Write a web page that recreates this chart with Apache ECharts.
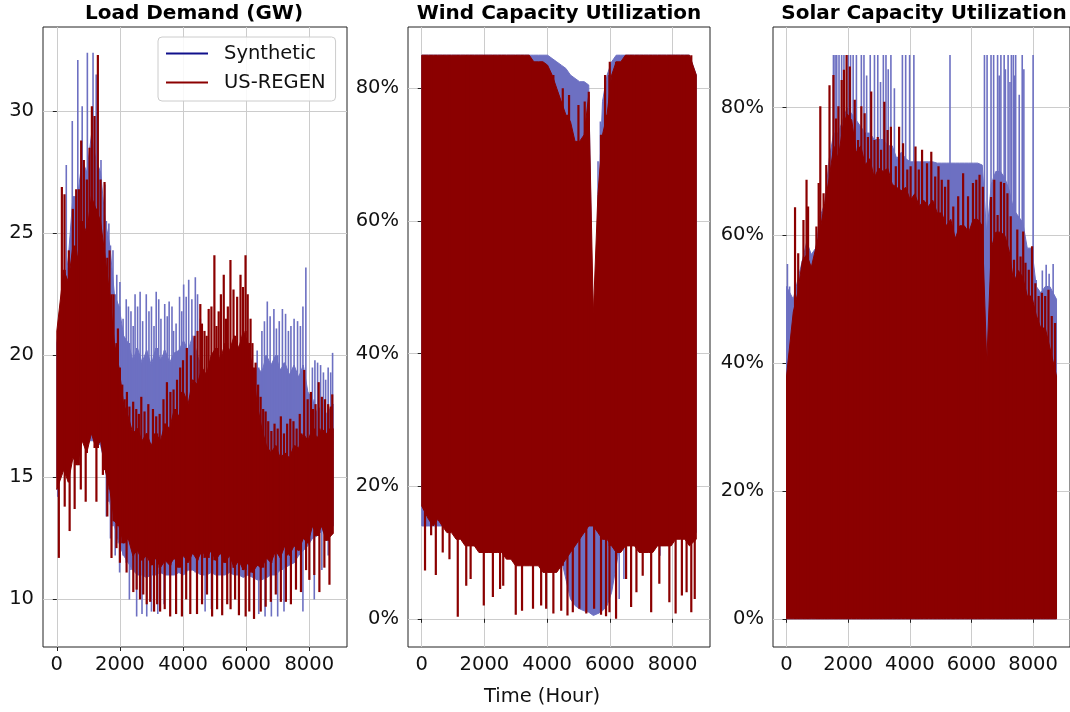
<!DOCTYPE html>
<html>
<head>
<meta charset="utf-8">
<script src="https://cdn.jsdelivr.net/npm/echarts@6.0.0/dist/echarts.min.js"></script>
<style>
html, body { margin: 0; padding: 0; background: #fff; }
#chart { width: 1070px; height: 712px; }
</style>
</head>
<body>
<div id="chart"></div>
<script>
// hourly traces: the dense band (high / low per 146-hour block, 60 blocks = 8760 h)
// plus the single hours that stick out of it, as [hour, value]
var BLOCK_HOURS = 146;

var loadSynHi = [20.5, 22.5, 24, 26.5, 26.5, 28, 27.5, 29, 28, 27.5,
  25.5, 24.5, 22.5, 22, 20.8, 20.5, 19.8, 20.3, 19.7, 20.2,
  19.6, 20.3, 19.8, 20.2, 19.7, 20.1, 20.2, 20.6, 20.2, 20.8,
  20, 19.5, 19, 19.2, 18.8, 19.1, 18.9, 19.2, 18.8, 19.2,
  19.1, 19.5, 19.2, 19.5, 19.3, 20, 19.6, 20, 19.4, 19.7,
  19.2, 19.6, 19.1, 19.6, 18.5, 18.2, 17.6, 18, 17.6, 18];
var loadSynLo = [15, 15.5, 16, 16, 16.3, 16.5, 16.5, 16.5, 16.5, 16.3,
  15.5, 14, 13, 12.3, 11.8, 11.5, 11.2, 11, 11, 10.9,
  11, 11, 11.1, 11, 11, 11, 11.1, 11, 11.2, 11.2,
  11.1, 11, 11, 11.1, 11, 11, 11, 11.1, 11, 11,
  10.9, 11, 10.9, 10.8, 10.8, 10.9, 11, 11, 11.2, 11.3,
  11.4, 11.5, 11.8, 12, 12.2, 12.5, 12.6, 12.8, 12.8, 13];
var loadSynUp = [[300, 27.8], [490, 29.6], [665, 32.1], [804, 30.2], [968, 32.4], [1148, 32.4], [1248, 31.5],
  [1400, 28], [1520, 27], [1650, 25.4], [1780, 24.3], [1900, 23.3], [2000, 23], [2100, 21.5], [2200, 22.3],
  [2270, 22], [2350, 21.8], [2420, 21.2], [2480, 22.5], [2560, 22], [2640, 22.6], [2720, 21.4], [2835, 22.5],
  [2920, 21.8], [3000, 22], [3080, 21.2], [3150, 22.6], [3230, 22.3], [3300, 21.5], [3420, 22.1], [3500, 21.6],
  [3560, 22.2], [3650, 22], [3700, 21], [3780, 21.3], [3890, 22.4], [3960, 21.8], [4020, 22.9], [4100, 22.4],
  [4180, 23.1], [4280, 22.3], [4390, 23.2], [4460, 22.5], [4550, 21.5], [6350, 20.2], [6500, 21], [6580, 21.4],
  [6671, 22.2], [6760, 21.6], [6880, 21.9], [6960, 21.1], [7050, 21.4], [7150, 21.9], [7250, 21.7], [7340, 21],
  [7420, 21.2], [7520, 21.5], [7630, 21.4], [7720, 21.2], [7800, 22], [7893, 23.6], [8100, 19.5], [8180, 19.8],
  [8265, 19.7], [8360, 19.6], [8450, 19.3], [8520, 19], [8600, 19.5], [8680, 19.3], [8740, 20.1]];
var loadSynDown = [[30, 14.2], [1570, 13.4], [1700, 12.5], [1850, 11.8], [1990, 11.1], [2300, 10], [2530, 9.3],
  [2700, 9.4], [2850, 9.3], [3000, 9.5], [3200, 9.4], [3400, 9.8], [4700, 9.5], [4900, 9.6], [6400, 9.4],
  [6600, 9.3], [6800, 9.3], [7000, 9.3], [7200, 9.5], [7800, 9.5], [8160, 10], [8400, 11.2], [8600, 11.8]];

var loadRegenHi = [21, 23.5, 23, 24.5, 24, 25.5, 25, 26.5, 26, 25.5,
  24, 22.5, 20.5, 19.5, 18, 17.5, 16.8, 17, 16.5, 16.8,
  16.3, 16.8, 16.5, 17.2, 17, 17.8, 17.5, 18.5, 18, 19,
  18.8, 19.5, 19.2, 20, 20.3, 19.8, 20.5, 20.2, 20.8, 20.3,
  21, 20.5, 19.5, 18, 17, 16.3, 16, 16.3, 15.8, 16,
  15.8, 16.3, 16.2, 16.8, 16.5, 17, 16.6, 17, 16.8, 17];
var loadRegenLo = [14.5, 15.3, 14.8, 15.8, 15.5, 16.5, 16, 16.8, 16.2, 16.5,
  15.3, 14.5, 13.2, 13, 12.3, 12.5, 11.8, 12, 11.6, 11.8,
  11.4, 11.7, 11.3, 11.6, 11.4, 11.7, 11.3, 11.8, 11.5, 11.9,
  11.6, 12, 11.7, 12, 11.6, 11.9, 11.5, 11.8, 11.3, 11.6,
  11.2, 11.5, 11.1, 11.4, 11.3, 11.7, 11.5, 12, 11.7, 12.2,
  11.8, 12.2, 12, 12.5, 12.3, 13, 12.6, 13, 12.4, 12.7];
var loadRegenUp = [[160, 26.9], [243, 26.6], [381, 24.3], [508, 26], [614, 26.8], [698, 26.8], [772, 28.8],
  [857, 28], [952, 27.2], [1037, 28.5], [1111, 30.2], [1196, 29.8], [1301, 32.3], [1386, 27.2], [1513, 27.1],
  [1672, 24.3], [1799, 22.5], [1936, 21.1], [2074, 18.8], [2150, 18.2], [2222, 18.5], [2300, 17.9], [2420, 18.1],
  [2518, 17.8], [2600, 17.6], [2677, 18.3], [2780, 17.7], [2900, 18], [3047, 17.8], [3150, 17.5], [3259, 17.6],
  [3380, 18.2], [3490, 18.9], [3600, 18.5], [3700, 18.6], [3810, 19], [3910, 19.5], [4000, 19.8], [4120, 20.3],
  [4250, 20], [4366, 20.8], [4460, 21], [4548, 22.1], [4600, 21.3], [4680, 21], [4750, 20.8], [4813, 21.9],
  [4900, 22], [4994, 24.1], [5060, 21.2], [5130, 21.8], [5200, 22.5], [5291, 23.3], [5360, 21.5], [5420, 22],
  [5503, 23.9], [5600, 22.7], [5716, 22.4], [5822, 23.3], [5900, 22.8], [5981, 24.1], [6050, 22.5], [6140, 21.5],
  [6200, 20.5], [6300, 19.7], [6380, 18.8], [6459, 18.3], [6540, 17.8], [6618, 17.7], [6700, 17.3], [6800, 16.9],
  [6900, 17.2], [7000, 17], [7100, 17.5], [7200, 16.8], [7300, 17.2], [7400, 17.4], [7500, 17.3], [7600, 17],
  [7700, 17.6], [7840, 19.4], [7950, 18.2], [8052, 18.5], [8120, 17.8], [8200, 18], [8300, 18.9], [8400, 18.3],
  [8500, 18.2], [8600, 18], [8680, 17.9], [8730, 18.4]];
var loadRegenDown = [[64, 11.7], [250, 13.8], [406, 12.8], [565, 13.7], [760, 14.5], [915, 14], [1255, 14],
  [1460, 15.1], [1600, 13.4], [1733, 11.7], [1890, 12.1], [2000, 11.5], [2211, 11.1], [2424, 10.3], [2530, 10.4],
  [2636, 10], [2740, 10.2], [2849, 9.8], [2960, 9.9], [3083, 9.5], [3180, 9.8], [3274, 9.5], [3420, 9.6],
  [3593, 9.3], [3780, 9.4], [3965, 9.3], [4100, 10], [4230, 9.4], [4443, 9.4], [4603, 9.8], [4760, 10.2],
  [4922, 9.3], [5080, 9.6], [5241, 9.35], [5400, 9.8], [5507, 9.6], [5650, 10], [5772, 9.35], [5985, 9.3],
  [6100, 9.5], [6250, 9.2], [6463, 9.5], [6620, 9.7], [6782, 9.9], [6940, 10.2], [7100, 9.9], [7260, 9.9],
  [7419, 9.8], [7580, 10.4], [7738, 10.3], [7900, 11.2], [8004, 10.8], [8160, 11], [8322, 10.3], [8480, 11.3],
  [8641, 10.6]];

var windSynHi = [85, 85, 85, 85, 85, 85, 85, 85, 85, 85,
  85, 85, 85, 85, 85, 85, 85, 85, 85, 85,
  85, 85, 85, 85, 85, 85, 85, 85, 84.5, 84,
  83.5, 83, 82, 81.5, 81, 81, 80.5, 40, 60, 78,
  82, 84, 85, 85, 85, 85, 85, 85, 85, 85,
  85, 85, 85, 85, 85, 85, 85, 85, 85, 82];
var windSynLo = [14, 14, 14, 14, 14, 14, 14, 14, 14, 14,
  14, 14, 14, 14, 14, 14, 14, 14, 14, 14,
  14, 14, 14, 14, 14, 14, 14, 14, 14, 12,
  9, 6, 3, 2, 1.5, 1.2, 1, 0.5, 0.8, 1.2,
  2, 4, 8, 12, 13, 13, 13, 13, 13, 13,
  13, 13, 13, 13, 13, 13, 13, 13, 13, 13];
var windSynUp = [[5625, 69], [5700, 75]];
var windSynDown = [[6300, 3], [6450, 6], [7600, 9.5]];

var windRegenHi = [85, 85, 85, 85, 85, 85, 85, 85, 85, 85,
  85, 85, 85, 85, 85, 85, 85, 85, 85, 85,
  85, 85, 85, 85, 84, 84, 84, 83.5, 82, 80,
  78, 76, 75, 72, 72, 73, 79, 46, 64, 73,
  76, 82, 84, 84, 85, 85, 85, 85, 85, 85,
  85, 85, 85, 85, 85, 85, 85, 85, 85, 82];
var windRegenLo = [17, 15, 14, 15, 14, 13, 13, 12, 12, 11,
  11, 11, 10, 10, 10, 10, 10, 10, 9, 9,
  8, 8, 8, 8, 8, 8, 7, 7, 7, 7,
  8, 9, 10, 11, 12, 13, 14, 14, 13, 12,
  12, 11, 10, 10, 11, 11, 11, 10, 10, 10,
  10, 11, 11, 11, 11, 12, 12, 12, 11, 12];
var windRegenUp = [[4500, 80], [4700, 79], [5000, 77.5], [5200, 78], [5330, 79.5], [5780, 73], [5850, 82], [6000, 84]];
var windRegenDown = [[105, 7.3], [300, 12.6], [450, 6.6], [670, 10], [885, 9], [1150, 0.3], [1420, 5], [1560, 6],
  [1980, 2], [2270, 3.3], [2500, 4.5], [2600, 5], [3000, 0.6], [3200, 1.2], [3550, 1.5], [3810, 2], [3970, 1.5],
  [4200, 0.8], [4450, 1.2], [4650, 0.5], [4820, 1], [5030, 1.5], [5250, 0.8], [5500, 1.5], [5720, 0.6], [5880, 0.4],
  [5990, 1], [6200, 0], [6520, 6], [6680, 1.8], [6850, 4], [7050, 6.5], [7320, 1], [7580, 5.3], [7900, 2.5],
  [8100, 0.8], [8300, 3.5], [8450, 4], [8600, 1], [8710, 3]];

var solarSynHi = [52, 50, 53, 56, 59, 57, 58, 63, 65, 72,
  76, 76, 78, 80, 79, 78, 77, 76, 76, 75,
  75, 75, 74, 74, 72, 73, 72, 71.5, 71.5, 71.5,
  71.5, 71.5, 71.5, 71.3, 71.3, 71.3, 71.3, 71.3, 71.3, 71.3,
  71.3, 71.3, 71.3, 71, 60, 68, 70, 70, 69, 67,
  64, 63, 62, 58, 58, 52, 51, 52, 52, 50];
var solarSynLo = [0, 0, 0, 0, 0, 0, 0, 0, 0, 0,
  0, 0, 0, 0, 0, 0, 0, 0, 0, 0,
  0, 0, 0, 0, 0, 0, 0, 0, 0, 0,
  0, 0, 0, 0, 0, 0, 0, 0, 0, 0,
  0, 0, 0, 0, 0, 0, 0, 0, 0, 0,
  0, 0, 0, 0, 0, 0, 0, 0, 0, 0];
var solarSynUp = [[30, 55.5], [100, 52], [1523, 88.2], [1576, 88.2], [1629, 88.2], [1704, 88.2], [1789, 88.2],
  [1864, 88.2], [2002, 88.2], [2077, 88.2], [2162, 88.2], [2268, 88.2], [2428, 88.2], [2513, 88.2], [2600, 85],
  [2716, 88.2], [2854, 88.2], [2961, 88.2], [3050, 84], [3142, 88.2], [3227, 88.2], [3300, 86], [3387, 88.2],
  [3500, 83], [3760, 88.2], [3866, 88.2], [3994, 88.2], [4132, 88.2], [5304, 88.2], [6422, 88.2], [6507, 88.2],
  [6635, 88.2], [6720, 88.2], [6848, 88.2], [6900, 85], [6955, 88.2], [7061, 88.2], [7100, 86], [7189, 88.2],
  [7250, 84], [7295, 88.2], [7359, 88.2], [7400, 85], [7434, 88.2], [7550, 82], [7647, 88.2], [7700, 86],
  [8000, 88.2], [8100, 53], [8300, 54.5], [8424, 55.4], [8520, 54], [8650, 55.5]];

var solarRegenHi = [38, 48, 51, 56, 57, 55, 58, 61, 65, 69,
  74, 72, 77, 79, 78, 73, 74, 71, 72, 69,
  70.5, 70, 70.5, 68, 67.5, 67, 67.5, 65.5, 66.5, 64.5,
  65.5, 64.5, 65.5, 63.5, 63.5, 61.5, 62.5, 59.5, 61.5, 61.5,
  60.5, 62.5, 62.5, 61.5, 40, 58, 60.5, 60.5, 60, 57.5,
  52.5, 54.5, 53.5, 50.5, 50.5, 47.5, 45.5, 45.5, 42.5, 38];
var solarRegenLo = [0, 0, 0, 0, 0, 0, 0, 0, 0, 0,
  0, 0, 0, 0, 0, 0, 0, 0, 0, 0,
  0, 0, 0, 0, 0, 0, 0, 0, 0, 0,
  0, 0, 0, 0, 0, 0, 0, 0, 0, 0,
  0, 0, 0, 0, 0, 0, 0, 0, 0, 0,
  0, 0, 0, 0, 0, 0, 0, 0, 0, 0];
var solarRegenUp = [[277, 64.4], [380, 57.2], [550, 62.4], [650, 68.7], [700, 64.5], [970, 61.4], [1044, 68.2],
  [1097, 80.2], [1203, 66.6], [1290, 71], [1395, 83.5], [1523, 85.1], [1608, 78.3], [1683, 80.2], [1790, 84.3],
  [1864, 85.9], [1949, 88.2], [2055, 86.4], [2162, 75.9], [2215, 81.2], [2322, 74.9], [2428, 80.2], [2535, 79.1],
  [2641, 75.4], [2748, 82.5], [2854, 74.9], [2961, 75.4], [3067, 73.4], [3174, 80.9], [3280, 76.5], [3387, 77],
  [3546, 70.8], [3653, 77], [3781, 74.4], [3919, 70.3], [4026, 70.8], [4185, 73.9], [4292, 70.3], [4398, 73.4],
  [4558, 71.3], [4697, 73.1], [4824, 69.2], [4931, 70.8], [5037, 68.7], [5144, 67.6], [5250, 68.7], [5410, 64.5],
  [5570, 66.1], [5730, 69.7], [5889, 66.1], [6049, 68.2], [6156, 68.7], [6262, 69.5], [6369, 67.6], [6635, 66],
  [6740, 68.7], [6848, 63.2], [6955, 68.4], [7061, 68.2], [7167, 66.6], [7274, 63], [7380, 56.2], [7487, 60.9],
  [7593, 56.7], [7679, 60.6], [7753, 55.7], [7860, 54.6], [7966, 58.3], [8073, 52.5], [8179, 50.5], [8286, 51],
  [8392, 50.5], [8498, 51.5], [8605, 47.4], [8711, 46.3]];

var hourTicks = [0, 2000, 4000, 6000, 8000];
var loadTicks = [10, 15, 20, 25, 30];
var pctTicks = [0, 20, 40, 60, 80];
var titles = ['Load Demand (GW)', 'Wind Capacity Utilization', 'Solar Capacity Utilization'];

var SYN_COLOR = '#6d70c2';
var REGEN_COLOR = '#8b0000';
var FONT = 'DejaVu Sans';

// hour at which a block's value is placed; the outer blocks are pinned to the ends of the year
function blockHour(i, n) {
  if (i === 0) return 0;
  if (i === n - 1) return 8760;
  return i * BLOCK_HOURS + BLOCK_HOURS / 2;
}

function spikeLines(list, from, color, width, api) {
  return list.map(function (s) {
    var i = Math.min(from.length - 1, Math.floor(s[0] / BLOCK_HOURS));
    var a = api.coord([s[0], from[i]]);
    var b = api.coord([s[0], s[1]]);
    return {
      type: 'line',
      shape: {x1: a[0], y1: a[1], x2: b[0], y2: b[1]},
      style: {stroke: color, lineWidth: width}
    };
  });
}

// dense band between the low and high envelope, plus the hours that stick out of it
function layer(hi, lo, up, down, color, width) {
  return function (params, api) {
    var top = [], bottom = [];
    for (var i = 0; i < hi.length; i++) {
      var t = blockHour(i, hi.length);
      top.push(api.coord([t, hi[i]]));
      bottom.unshift(api.coord([t, lo[i]]));
    }
    var children = [{
      type: 'polygon',
      shape: {points: top.concat(bottom)},
      style: {fill: color, stroke: color, lineWidth: 1}
    }];
    children = children.concat(spikeLines(up, lo, color, width, api));
    children = children.concat(spikeLines(down, hi, color, width, api));
    return {type: 'group', children: children};
  };
}

var grids = [
  {left: 43, top: 27, width: 304, height: 620},
  {left: 408, top: 27, width: 302, height: 620},
  {left: 773, top: 27, width: 302, height: 620}
];
var yRanges = [[8.05, 33.45], [-4.25, 89.25], [-4.41, 92.6]];
var yTicks = [loadTicks, pctTicks, pctTicks];

var xAxes = [], yAxes = [], titleList = [];
for (var g = 0; g < 3; g++) {
  grids[g].show = true;
  grids[g].borderColor = '#222';
  grids[g].borderWidth = 1;
  grids[g].backgroundColor = 'transparent';
  xAxes.push({
    type: 'value', gridIndex: g, min: -438, max: 9197,
    axisLine: {show: false},
    axisTick: {show: true, length: 4, customValues: hourTicks, lineStyle: {color: '#222'}},
    axisLabel: {customValues: hourTicks, fontSize: 19.5, color: '#111', fontFamily: FONT, margin: 8,
      formatter: function (v) { return String(v); }},
    splitLine: {show: true, lineStyle: {color: '#cccccc', width: 1}}
  });
  yAxes.push({
    type: 'value', gridIndex: g, min: yRanges[g][0], max: yRanges[g][1],
    axisLine: {show: false},
    axisTick: {show: true, length: 4, customValues: yTicks[g], lineStyle: {color: '#222'}},
    axisLabel: {customValues: yTicks[g], fontSize: 19.5, color: '#111', fontFamily: FONT, margin: 9,
      formatter: g === 0 ? function (v) { return String(v); } : function (v) { return v + '%'; }},
    splitLine: {show: true, lineStyle: {color: '#cccccc', width: 1}}
  });
  titleList.push({
    text: titles[g], left: grids[g].left + 151, top: 4, textAlign: 'center', padding: 0,
    textStyle: {fontSize: 20, fontWeight: 'bold', color: '#000', fontFamily: FONT}
  });
}
titleList.push({
  text: 'Time (Hour)', left: 542, top: 687, textAlign: 'center', padding: 0,
  textStyle: {fontSize: 19.5, fontWeight: 'normal', color: '#111', fontFamily: FONT}
});

var panels = [
  [[loadSynHi, loadSynLo, loadSynUp, loadSynDown], [loadRegenHi, loadRegenLo, loadRegenUp, loadRegenDown]],
  [[windSynHi, windSynLo, windSynUp, windSynDown], [windRegenHi, windRegenLo, windRegenUp, windRegenDown]],
  [[solarSynHi, solarSynLo, solarSynUp, []], [solarRegenHi, solarRegenLo, solarRegenUp, []]]
];
var names = ['Synthetic', 'US-REGEN'];
var colors = [SYN_COLOR, REGEN_COLOR];
var widths = [1.6, 2.2];
var series = [];
for (var p = 0; p < 3; p++) {
  for (var s = 0; s < 2; s++) {
    var d = panels[p][s];
    series.push({
      name: names[s], type: 'custom', xAxisIndex: p, yAxisIndex: p,
      data: [[0, 0]], silent: true,
      itemStyle: {color: colors[s]},
      renderItem: layer(d[0], d[1], d[2], d[3], colors[s], widths[s])
    });
  }
}

var myChart = echarts.init(document.getElementById('chart'));
myChart.setOption({
  animation: false,
  title: titleList,
  grid: grids,
  xAxis: xAxes,
  yAxis: yAxes,
  legend: {
    orient: 'vertical', left: 158, top: 37,
    padding: [6, 10, 8, 8], itemGap: 8, itemWidth: 42, itemHeight: 2, icon: 'rect',
    backgroundColor: 'rgba(255,255,255,0.85)', borderColor: '#cccccc', borderWidth: 1, borderRadius: 4,
    textStyle: {fontSize: 19.5, color: '#111', fontFamily: FONT, lineHeight: 21, padding: [0, 0, 0, 11]},
    data: [
      {name: 'Synthetic', itemStyle: {color: '#10108c'}},
      {name: 'US-REGEN', itemStyle: {color: '#8b0000'}}
    ]
  },
  series: series
});
</script>
</body>
</html>
